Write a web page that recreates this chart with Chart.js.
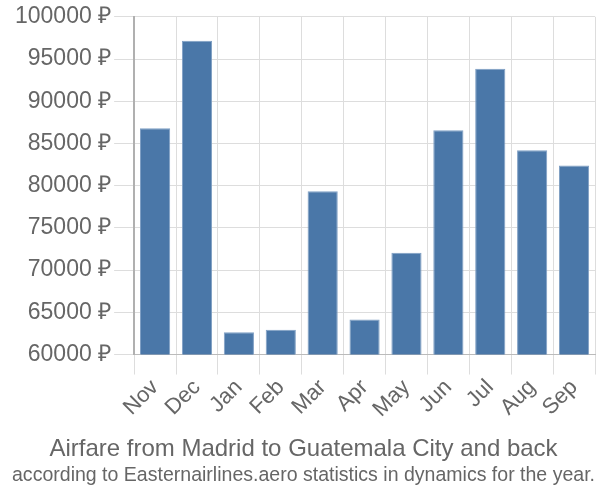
<!DOCTYPE html>
<html>
<head>
<meta charset="utf-8">
<script src="https://cdn.jsdelivr.net/npm/chart.js@4/dist/chart.umd.min.js"></script>
<style>
  html, body { margin: 0; padding: 0; background: #fff; }
  #wrap { width: 600px; height: 500px; }
</style>
</head>
<body>
<div id="wrap"><canvas id="priceChart" width="600" height="500"></canvas></div>
<script>
const months = ['Nov', 'Dec', 'Jan', 'Feb', 'Mar', 'Apr', 'May', 'Jun', 'Jul', 'Aug', 'Sep'];
const prices = [86800, 97150, 62650, 62950, 79350, 64150, 72050, 86550, 93850, 84200, 82400];
const yMin = 60000;
const yMax = 100000;
const yStep = 5000;

// with position 'bottom' the later box ends up on top, so main title goes in subtitle
const ctx = document.getElementById('priceChart').getContext('2d');
const priceChart = new Chart(ctx, {
  type: 'bar',
  data: {
    labels: months,
    datasets: [{
      data: prices,
      backgroundColor: '#4a77a8',
      borderColor: '#7f9fc4',
      borderWidth: 1,
      barPercentage: 0.72,
      categoryPercentage: 1
    }]
  },
  options: {
    responsive: false,
    animation: false,
    layout: { padding: { left: 12, right: 5, top: 1, bottom: 0 } },
    scales: {
      x: {
        grid: { color: '#dddddd', offset: true, tickLength: 20 },
        border: { color: '#bbbbbb' },
        ticks: {
          color: '#666',
          font: { family: 'Liberation Sans', size: 22 },
          maxRotation: 45,
          minRotation: 45,
          padding: 0
        }
      },
      y: {
        min: yMin,
        max: yMax,
        grid: { color: '#dddddd', tickLength: 20 },
        border: { color: '#b0b0b0', width: 2 },
        ticks: {
          stepSize: yStep,
          color: '#666',
          font: { family: 'Liberation Sans', size: 23 },
          padding: 3,
          callback: v => v + ' ₽'
        }
      }
    },
    plugins: {
      legend: { display: false },
      tooltip: { enabled: false },
      subtitle: {
        display: true,
        position: 'bottom',
        text: 'Airfare from Madrid to Guatemala City and back',
        color: '#666',
        font: { family: 'Liberation Sans', size: 24, weight: 'normal' },
        padding: { top: 12, bottom: 0 }
      },
      title: {
        display: true,
        position: 'bottom',
        text: 'according to Easternairlines.aero statistics in dynamics for the year.',
        color: '#666',
        font: { family: 'Liberation Sans', size: 20.5, weight: 'normal' },
        padding: { top: 0, bottom: 12 }
      }
    }
  }
});
</script>
</body>
</html>
